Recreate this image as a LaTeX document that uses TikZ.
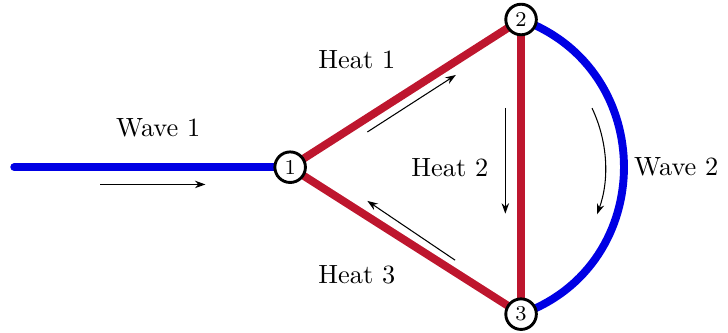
\documentclass[tikz,border=0pt]{standalone}
\usepackage{xcolor}
\definecolor{heatred}{RGB}{190,22,46}
\definecolor{waveblue}{RGB}{0,0,228}
\usetikzlibrary{arrows.meta,backgrounds}
\begin{document}
\begin{tikzpicture}[
junc/.style={circle,draw=black,line width=1.1pt,fill=white,inner sep=0pt,minimum size=11.6pt,font=\footnotesize},
heat/.style={draw=heatred,line width=3pt},
wave/.style={draw=waveblue,line width=3pt,line cap=round},
flow/.style={-{Stealth[length=1.4mm,width=1mm]},thin}]
\useasboundingbox (-3.87,-2.21) rectangle (5.84,2.23);
\node[junc] (n1) at (0,0) {1};
\node[junc] (n2) at (3.08,1.97) {2};
\node[junc] (n3) at (3.08,-1.96) {3};
\coordinate (inlet) at (-3.68,0);
\begin{pgfonlayer}{background}
\draw[wave] (inlet)--(n1.center);
\draw[heat] (n1.center)--(n2.center);
\draw[heat] (n2.center)--(n3.center);
\draw[heat] (n3.center)--(n1.center);
\draw[wave] (n2.center) .. controls (4.91,1.31) and (4.91,-1.31) .. (n3.center);
\end{pgfonlayer}
% labels
\node (w1) at (-1.76,0.53) {Wave 1};
\node (h1) at (0.89,1.43) {Heat 1};
\node (h2) at (2.13,0) {Heat 2};
\node (h3) at (0.89,-1.44) {Heat 3};
\node (w2) at (5.15,0) {Wave 2};
% direction of travel
\draw[flow] (-2.53,-0.23)--(-1.13,-0.23);
\draw[flow] (1.03,0.47)--(2.21,1.23);
\draw[flow] (2.87,0.79)--(2.87,-0.62);
\draw[flow] (2.2,-1.24)--(1.03,-0.45);
\draw[flow] (2.368,0) ++(25.4:1.836) arc (25.4:-20:1.836);
\end{tikzpicture}
\end{document}
